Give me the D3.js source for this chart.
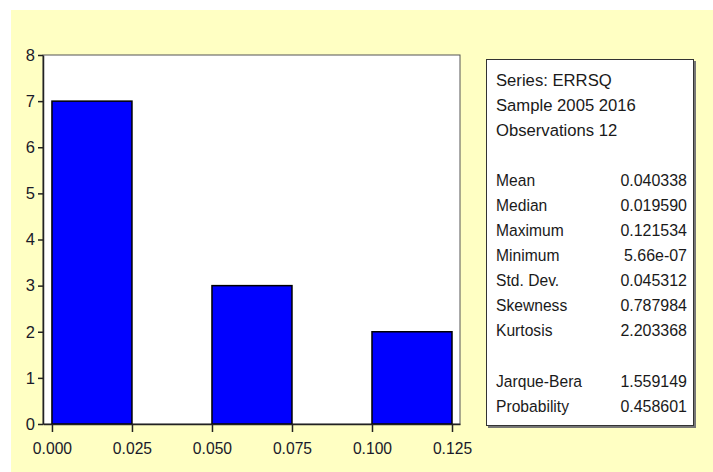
<!DOCTYPE html>
<html><head><meta charset="utf-8">
<script src="https://cdn.jsdelivr.net/npm/d3@7"></script>
<style>html,body{margin:0;padding:0;background:#fff;}svg{display:block;}</style>
</head><body>
<svg id="c" width="713" height="472"></svg>
<script>
const binStarts = [0.000, 0.025, 0.050, 0.075, 0.100];
const binWidth = 0.025;
const counts = [7, 0, 3, 0, 2];
const yTicks = [0,1,2,3,4,5,6,7,8];
const xTicks = [0.000, 0.025, 0.050, 0.075, 0.100, 0.125];
const headerLines = ["Series: ERRSQ", "Sample 2005 2016", "Observations 12"];
const statNames = ["Mean","Median","Maximum","Minimum","Std. Dev.","Skewness","Kurtosis"];
const statValues = ["0.040338","0.019590","0.121534","5.66e-07","0.045312","0.787984","2.203368"];
const testNames = ["Jarque-Bera","Probability"];
const testValues = ["1.559149","0.458601"];

const FONT = "'Liberation Sans',Arial,sans-serif";
const svg = d3.select("#c");
svg.append("rect").attr("x",11).attr("y",10).attr("width",702).attr("height",462).attr("fill","#FFFFC3");

const x = d3.scaleLinear().domain([-0.0028, 0.1275]).range([43, 460]);
const y = d3.scaleLinear().domain([0, 8]).range([424, 55]);

svg.append("rect").attr("x",43).attr("y",55).attr("width",417).attr("height",369)
  .attr("fill","#fff").attr("stroke","#555").attr("stroke-width",1);

svg.selectAll("rect.bar").data(counts.map((c,i)=>({s:binStarts[i],c}))).join("rect")
  .attr("class","bar")
  .attr("x",d=>x(d.s)).attr("width",d=>x(d.s+binWidth)-x(d.s))
  .attr("y",d=>y(d.c)).attr("height",d=>y(0)-y(d.c))
  .attr("fill","#0000FF").attr("stroke","#000").attr("stroke-width",1.5);

const yAx = svg.append("g").attr("transform","translate(43,0)")
  .call(d3.axisLeft(y).tickValues(yTicks).tickFormat(d3.format("d")).tickSizeInner(5).tickSizeOuter(0).tickPadding(3));
const xAx = svg.append("g").attr("transform","translate(0,424)")
  .call(d3.axisBottom(x).tickValues(xTicks).tickFormat(d3.format(".3f")).tickSizeInner(8).tickSizeOuter(0).tickPadding(10));
[yAx,xAx].forEach(g=>{
  g.select(".domain").attr("stroke","#222").attr("stroke-width",1.5);
  g.selectAll(".tick line").attr("stroke","#222").attr("stroke-width",1.5);
  g.selectAll("text").attr("font-family",FONT).attr("font-size",16.5).attr("fill","#1a1a2a");
});
xAx.selectAll(".tick text").attr("transform",`scale(${0.95},1)`);

svg.append("rect").attr("x",488).attr("y",61).attr("width",208).attr("height",367).attr("fill","#777");
svg.append("rect").attr("x",486.5).attr("y",59.5).attr("width",207).attr("height",366)
  .attr("fill","#fff").attr("stroke","#333").attr("stroke-width",1);

const tx = 496, vx = 687;
const g = svg.append("g").attr("font-family",FONT).attr("font-size",17).attr("fill","#1a1a1a");
function put(cls, arr, y0, xx, anchor, sx){
  g.selectAll("text."+cls).data(arr).join("text").attr("class",cls)
    .attr("transform",(d,i)=>`translate(${xx},${y0+i*25}) scale(${sx},1)`)
    .attr("text-anchor",anchor).text(d=>d);
}
put("h", headerLines, 86, tx, "start", 0.98);
put("sn", statNames, 186, tx, "start", 0.92);
put("sv", statValues, 186, vx, "end", 0.94);
put("tn", testNames, 387, tx, "start", 0.92);
put("tv", testValues, 387, vx, "end", 0.94);
</script>
</body></html>
